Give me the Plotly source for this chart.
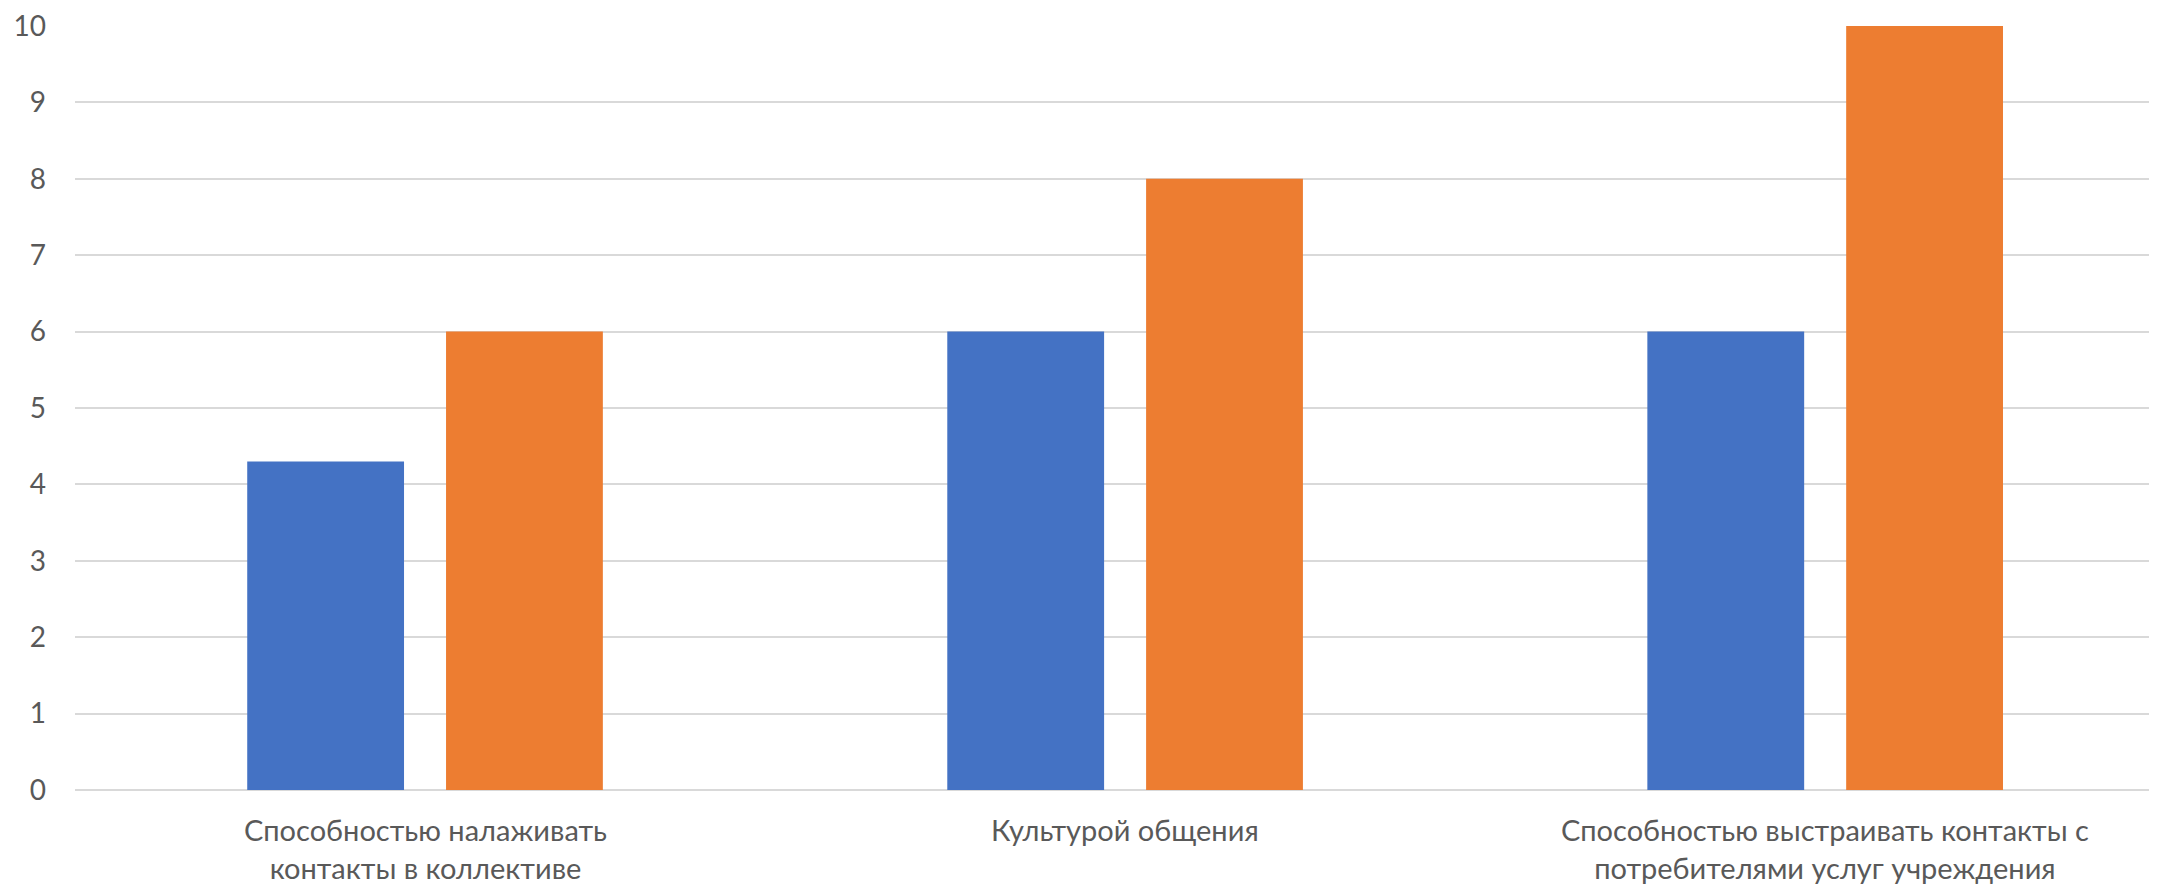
import plotly.graph_objects as go

categories = [
    "Способностью налаживать контакты в коллективе",
    "Культурой общения",
    "Способностью выстраивать контакты с потребителями услуг учреждения",
]
tick_labels = [
    "Способностью налаживать<br>контакты в коллективе",
    "Культурой общения",
    "Способностью выстраивать контакты с<br>потребителями услуг учреждения",
]
series1_values = [4.3, 6, 6]
series2_values = [6, 8, 10]
y_ticks = [0, 1, 2, 3, 4, 5, 6, 7, 8, 9, 10]

FONT = "Lato"
TEXT_COLOR = "#595959"

fig = go.Figure()
fig.add_trace(go.Bar(x=categories, y=series1_values, name="Ряд 1",
                     marker=dict(color="#4472C4", line=dict(width=0)),
                     width=0.224, offset=-0.254))
fig.add_trace(go.Bar(x=categories, y=series2_values, name="Ряд 2",
                     marker=dict(color="#ED7D31", line=dict(width=0)),
                     width=0.224, offset=0.030))

for cat, lab in zip(categories, tick_labels):
    fig.add_annotation(x=cat, y=0, xref="x", yref="y", text=lab, showarrow=False,
                       xanchor="center", yanchor="top", yshift=-20,
                       align="center",
                       font=dict(family=FONT, size=29, color=TEXT_COLOR))

fig.update_layout(
    width=2149, height=878,
    margin=dict(l=67, r=0, t=16, b=96),
    paper_bgcolor="white", plot_bgcolor="white",
    showlegend=False,
    barmode="overlay",
    font=dict(family=FONT, size=27, color=TEXT_COLOR),
)
fig.update_xaxes(type="category", range=[-0.5, 2.474], showticklabels=False,
                 showgrid=False, zeroline=False, showline=False, ticks="")
fig.update_yaxes(range=[0, 10], tickvals=y_ticks, showgrid=True,
                 gridcolor="#d9d9d9", gridwidth=1.5, zeroline=True,
                 zerolinecolor="#d9d9d9", zerolinewidth=1.5, showline=False,
                 ticks="", ticklabelstandoff=28, ticklabeloverflow="allow",
                 tickfont=dict(family=FONT, size=28, color=TEXT_COLOR))

fig.write_html("out.html")
